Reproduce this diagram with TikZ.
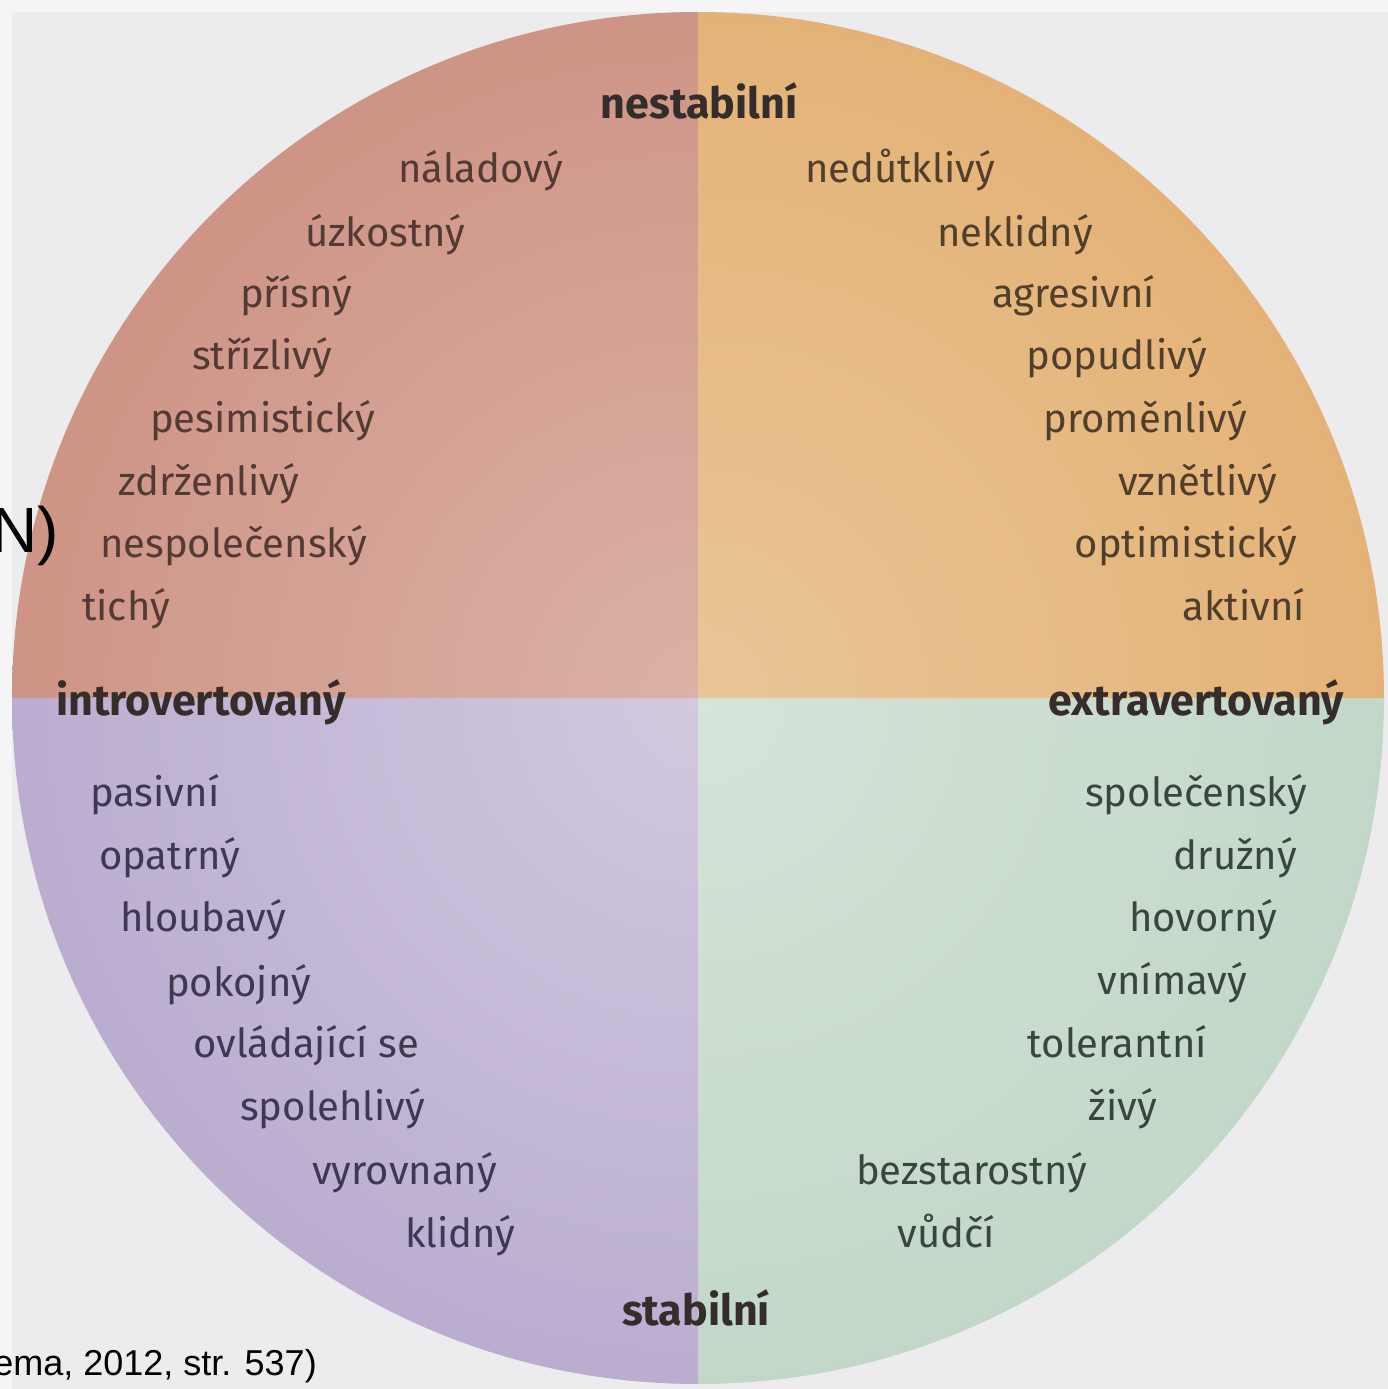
\documentclass[tikz,border=0pt]{standalone}
\usepackage{fontspec}
\setmainfont{Fira Sans}
\newfontfamily\arialfont{Liberation Sans}
\definecolor{bgA}{HTML}{F5F5F7}
\definecolor{bgB}{HTML}{ECECEE}
\definecolor{tlIn}{HTML}{DBB2A6}
\definecolor{tlOut}{HTML}{C47C6C}
\definecolor{trIn}{HTML}{E9C697}
\definecolor{trOut}{HTML}{E0A25E}
\definecolor{blIn}{HTML}{D2C9E0}
\definecolor{blOut}{HTML}{A796C3}
\definecolor{brIn}{HTML}{D6E4D9}
\definecolor{brOut}{HTML}{B2CDB9}
\definecolor{tlText}{HTML}{533A34}
\definecolor{trText}{HTML}{513F2B}
\definecolor{blText}{HTML}{3E3850}
\definecolor{brText}{HTML}{39453E}
\definecolor{axText}{HTML}{352D2B}
\begin{document}
\begin{tikzpicture}[x=1pt,y=-1pt,
  wordL/.style={anchor=base west, inner sep=0pt, font=\fontsize{40}{48}\selectfont},
  wordR/.style={anchor=base east, inner sep=0pt, font=\fontsize{40}{48}\selectfont},
  axislabel/.style={inner sep=0pt, text=axText, font=\fontsize{43}{50}\selectfont\bfseries},
  outer/.style={inner sep=0pt, text=black, font=\arialfont}]
\useasboundingbox (0,0) rectangle (1388,1389);
\fill[bgA] (0,0) rectangle (1388,1389);
\fill[bgB] (12,12) rectangle (1388,1389);
\begin{scope}
  \clip (698,698) circle (686pt);
  \begin{scope}
    \clip (0,0) rectangle (698,698);
    \shade[inner color=tlIn, outer color=tlOut] (698,698) circle (1250pt);
  \end{scope}
  \begin{scope}
    \clip (698,0) rectangle (1388,698);
    \shade[inner color=trIn, outer color=trOut] (698,698) circle (1250pt);
  \end{scope}
  \begin{scope}
    \clip (0,698) rectangle (698,1389);
    \shade[inner color=blIn, outer color=blOut] (698,698) circle (1250pt);
  \end{scope}
  \begin{scope}
    \clip (698,698) rectangle (1388,1389);
    \shade[inner color=brIn, outer color=brOut] (698,698) circle (1250pt);
  \end{scope}
\end{scope}
% top-left
\begin{scope}[every node/.append style={text=tlText}]
\node[wordL] (tl1) at (398,182) {náladový};
\node[wordL] (tl2) at (305,246) {úzkostný};
\node[wordL] (tl3) at (240,307) {přísný};
\node[wordL] (tl4) at (192,369) {střízlivý};
\node[wordL] (tl5) at (150,432) {pesimistický};
\node[wordL] (tl6) at (118,495) {zdrženlivý};
\node[wordL] (tl7) at (100,557) {nespolečenský};
\node[wordL] (tl8) at (82,620) {tichý};
\end{scope}
% top-right
\begin{scope}[every node/.append style={text=trText}]
\node[wordR] (tr1) at (995,182) {nedůtklivý};
\node[wordR] (tr2) at (1093,246) {neklidný};
\node[wordR] (tr3) at (1155,307) {agresivní};
\node[wordR] (tr4) at (1207,369) {popudlivý};
\node[wordR] (tr5) at (1247,432) {proměnlivý};
\node[wordR] (tr6) at (1277,495) {vznětlivý};
\node[wordR] (tr7) at (1297,557) {optimistický};
\node[wordR] (tr8) at (1305,620) {aktivní};
\end{scope}
% bottom-left
\begin{scope}[every node/.append style={text=blText}]
\node[wordL] (bl1) at (90,806) {pasivní};
\node[wordL] (bl2) at (99,869) {opatrný};
\node[wordL] (bl3) at (120,931) {hloubavý};
\node[wordL] (bl4) at (166,996) {pokojný};
\node[wordL] (bl5) at (193,1057) {ovládající se};
\node[wordL] (bl6) at (240,1120) {spolehlivý};
\node[wordL] (bl7) at (312,1184) {vyrovnaný};
\node[wordL] (bl8) at (405,1247) {klidný};
\end{scope}
% bottom-right
\begin{scope}[every node/.append style={text=brText}]
\node[wordR] (br1) at (1307,806) {společenský};
\node[wordR] (br2) at (1297,869) {družný};
\node[wordR] (br3) at (1277,931) {hovorný};
\node[wordR] (br4) at (1247,994) {vnímavý};
\node[wordR] (br5) at (1207,1057) {tolerantní};
\node[wordR] (br6) at (1157,1120) {živý};
\node[wordR] (br7) at (1087,1184) {bezstarostný};
\node[wordR] (br8) at (995,1247) {vůdčí};
\end{scope}
% axis labels
\node[axislabel, anchor=base] (top) at (699,118) {nestabilní};
\node[axislabel, anchor=base] (bottom) at (696,1325) {stabilní};
\node[axislabel, anchor=base west] (left) at (56,715) {introvertovaný};
\node[axislabel, anchor=base east] (right) at (1344,715) {extravertovaný};
% cropped outside text
\begin{scope}
  \clip (0,0) rectangle (1388,1389);
  \node[outer, anchor=base east, font=\arialfont\fontsize{64}{70}\selectfont] (nlabel) at (59,552) {N)};
  \node[outer, anchor=base east, font=\arialfont\fontsize{36}{40}\selectfont] (source) at (317,1375) {ema, 2012, str. 537)};
\end{scope}
\end{tikzpicture}
\end{document}
